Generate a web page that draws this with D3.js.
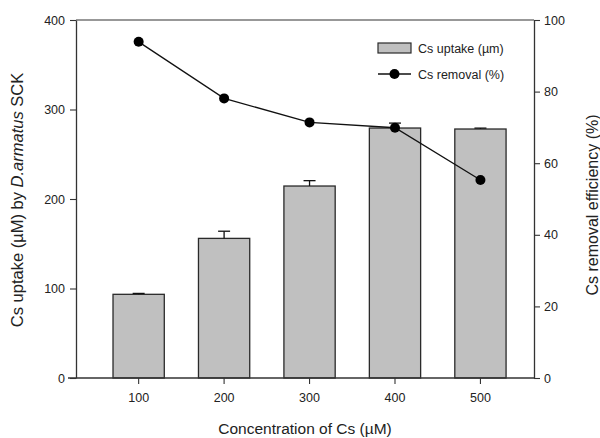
<!DOCTYPE html>
<html><head><meta charset="utf-8">
<script src="https://cdn.jsdelivr.net/npm/d3@7"></script>
<style>body{margin:0;background:#fff}svg{display:block}text{font-family:Arial,"Liberation Sans",sans-serif;fill:#222}</style>
</head><body>
<svg id="c" width="600" height="438"></svg>
<script>
const categories = ["100","200","300","400","500"];
const uptake = [93.5, 156, 214.5, 279.3, 278.2];
const uptakeErr = [1, 8, 6, 5.5, 1];
const removal = [93.9, 78.1, 71.4, 69.9, 55.3];
const leftTicks = [0,100,200,300,400];
const rightTicks = [0,20,40,60,80,100];

const svg = d3.select("#c");
const L = 76, R = 534, T = 20, B = 378;

const x = d3.scaleBand().domain(categories).range([L, R]).paddingInner(0.4).paddingOuter(0.38).align(0.57);
const yL = d3.scaleLinear().domain([0,400]).range([B,T]);
const yR = d3.scaleLinear().domain([0,100]).range([B,T]);
const cx = c => x(c) + x.bandwidth()/2;

// bars
svg.append("g").selectAll("rect").data(categories).join("rect")
  .attr("x", c => x(c)).attr("width", x.bandwidth())
  .attr("y", (c,i) => yL(uptake[i])).attr("height", (c,i) => B - yL(uptake[i]))
  .attr("fill", "#c0c0c0").attr("stroke", "#2a2a2a").attr("stroke-width", 1.3);

// error bars
const eg = svg.append("g").attr("stroke", "#111").attr("stroke-width", 1.3);
categories.forEach((c,i) => {
  const y0 = yL(uptake[i]), y1 = yL(uptake[i] + uptakeErr[i]);
  eg.append("line").attr("x1", cx(c)).attr("x2", cx(c)).attr("y1", y0).attr("y2", y1);
  eg.append("line").attr("x1", cx(c)-6).attr("x2", cx(c)+6).attr("y1", y1).attr("y2", y1);
});

// frame top
svg.append("line").attr("x1", L).attr("x2", R).attr("y1", T).attr("y2", T).attr("stroke", "#333").attr("stroke-width", 1.2);

// axes
const axL = svg.append("g").attr("transform", `translate(${L},0)`)
  .call(d3.axisLeft(yL).tickValues(leftTicks).tickSize(6).tickPadding(5).tickSizeOuter(0));
const axR = svg.append("g").attr("transform", `translate(${R},0)`)
  .call(d3.axisRight(yR).tickValues(rightTicks).tickSize(6).tickPadding(4).tickSizeOuter(0));
const axB = svg.append("g").attr("transform", `translate(0,${B})`)
  .call(d3.axisBottom(x).tickSize(6).tickPadding(9).tickSizeOuter(0));
[axL, axR, axB].forEach(a => {
  a.selectAll("path.domain").attr("stroke", "#333").attr("stroke-width", 1.3);
  a.selectAll(".tick line").attr("stroke", "#333").attr("stroke-width", 1.1);
  a.selectAll("text").attr("font-size", 12.5).attr("fill", "#222").attr("font-family", "Arial,'Liberation Sans',sans-serif");
});
axB.select("path.domain").attr("d", `M${L-8},0H${R}`);

// line + markers
const line = d3.line().x((d,i) => cx(categories[i])).y(d => yR(d));
svg.append("path").datum(removal).attr("d", line).attr("fill", "none").attr("stroke", "#111").attr("stroke-width", 1.3);
svg.append("g").selectAll("circle").data(removal).join("circle")
  .attr("cx", (d,i) => cx(categories[i])).attr("cy", d => yR(d)).attr("r", 5).attr("fill", "#000");

// legend
const lg = svg.append("g");
lg.append("rect").attr("x", 378).attr("y", 43).attr("width", 33).attr("height", 10)
  .attr("fill", "#c0c0c0").attr("stroke", "#2a2a2a").attr("stroke-width", 1.2);
lg.append("text").attr("x", 418).attr("y", 53).attr("font-size", 12.5).text("Cs uptake (\u00b5m)");
lg.append("line").attr("x1", 378).attr("x2", 411).attr("y1", 74).attr("y2", 74).attr("stroke", "#111").attr("stroke-width", 1.3);
lg.append("circle").attr("cx", 394.5).attr("cy", 74).attr("r", 5).attr("fill", "#000");
lg.append("text").attr("x", 418).attr("y", 79).attr("font-size", 12.5).text("Cs removal (%)");

// axis titles
svg.append("text").attr("x", (L+R)/2).attr("y", 434).attr("text-anchor", "middle").attr("font-size", 15.5)
  .text("Concentration of Cs (\u00b5M)");
const lt = svg.append("text").attr("transform", "translate(23,200) rotate(-90)").attr("text-anchor", "middle").attr("font-size", 16.5);
lt.append("tspan").text("Cs uptake (\u00b5M) by ");
lt.append("tspan").attr("font-style", "italic").text("D.armatus");
lt.append("tspan").text(" SCK");
svg.append("text").attr("transform", "translate(598,205) rotate(-90)").attr("text-anchor", "middle").attr("font-size", 16)
  .text("Cs removal efficiency (%)");
</script>
</body></html>
